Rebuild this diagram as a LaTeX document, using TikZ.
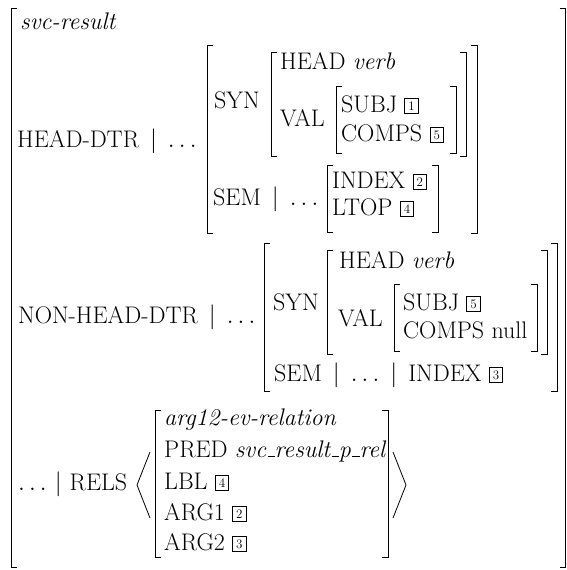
\documentclass[tikz,border=0pt]{standalone}
\newcommand{\boxnum}[1]{{\setlength{\fboxsep}{0pt}\setlength{\fboxrule}{0.7pt}%
  \fbox{\makebox[13pt]{\rule[-1pt]{0pt}{14pt}\raisebox{1.8pt}{\fontsize{13}{13}\selectfont #1}}}}}
\newcommand{\us}{\kern.06em\vbox{\hrule height 0.9pt width .3em}}
\newcommand{\pth}{\hspace{11pt}$|$\hspace{11pt}}
\newcommand{\lbrk}[3]{\draw[brk] (#1+6,#2) -- (#1,#2) -- (#1,#3) -- (#1+6,#3);}
\newcommand{\rbrk}[3]{\draw[brk] (#1-6,#2) -- (#1,#2) -- (#1,#3) -- (#1-6,#3);}
\tikzset{
  feat/.style={anchor=base west, inner sep=0pt, font=\fontsize{24}{29}\selectfont},
  brk/.style={line width=0.8pt},
}
\begin{document}
\begin{tikzpicture}[x=1pt, y=-1pt]
    \useasboundingbox (0,0) rectangle (566,570);
    % outer matrix
    \lbrk{11}{8}{567}
    \rbrk{565.5}{8}{567}
    \node[feat] (type) at (20,29) {\textit{svc-result}};

    % head daughter
    \node[feat] (hdtr) at (17,147) {HEAD-DTR\pth$\ldots$};
    \lbrk{207}{45}{233}
    \rbrk{477}{45}{233}
    \node[feat] (syn1) at (214,108) {SYN};
    \lbrk{271}{52}{156}
    \rbrk{466}{52}{156}
    \node[feat] (head1) at (280,69) {HEAD \textit{verb}};
    \node[feat] (val1) at (280,126) {VAL};
    \lbrk{336}{86}{153}
    \rbrk{456}{86}{153}
    \node[feat] (subj1) at (341,112) {SUBJ \boxnum{1}};
    \node[feat] (comps1) at (341,141) {COMPS \boxnum{5}};
    \node[feat] (sem1) at (213,205) {SEM\pth$\ldots$};
    \lbrk{327}{165}{232}
    \rbrk{438}{165}{232}
    \node[feat] (index1) at (332,188) {INDEX \boxnum{2}};
    \node[feat] (ltop) at (332,215) {LTOP \boxnum{4}};

    % non-head daughter
    \node[feat] (nhdtr) at (18,323) {NON-HEAD-DTR\pth$\ldots$};
    \lbrk{264}{243}{391}
    \rbrk{557}{243}{391}
    \node[feat] (syn2) at (273,310) {SYN};
    \lbrk{327}{250}{354}
    \rbrk{547}{250}{354}
    \node[feat] (head2) at (339,268) {HEAD \textit{verb}};
    \node[feat] (val2) at (338,326) {VAL};
    \lbrk{394}{284}{351}
    \rbrk{537}{284}{351}
    \node[feat] (subj2) at (403,310) {SUBJ \boxnum{5}};
    \node[feat] (comps2) at (403,338) {COMPS null};
    \node[feat] (sem2) at (274,381) {SEM\pth$\ldots$\pth INDEX \boxnum{3}};

    % relations
    \node[feat] (rels) at (18,490) {$\ldots$\hspace{8pt}$|$\hspace{8pt}RELS};
    \draw[brk] (150,452) -- (137,485) -- (150,518);
    \lbrk{155}{410}{557}
    \rbrk{388}{410}{557}
    \draw[brk] (393,452) -- (406,485) -- (393,518);
    \node[feat] (rel) at (164,425) {\textit{arg12-ev-relation}};
    \node[feat] (pred) at (164,457) {PRED \textit{svc\us result\us p\us rel}};
    \node[feat] (lbl) at (164,489) {LBL \boxnum{4}};
    \node[feat] (arg1) at (164,520) {ARG1 \boxnum{2}};
    \node[feat] (arg2) at (164,550) {ARG2 \boxnum{3}};
\end{tikzpicture}
\end{document}
